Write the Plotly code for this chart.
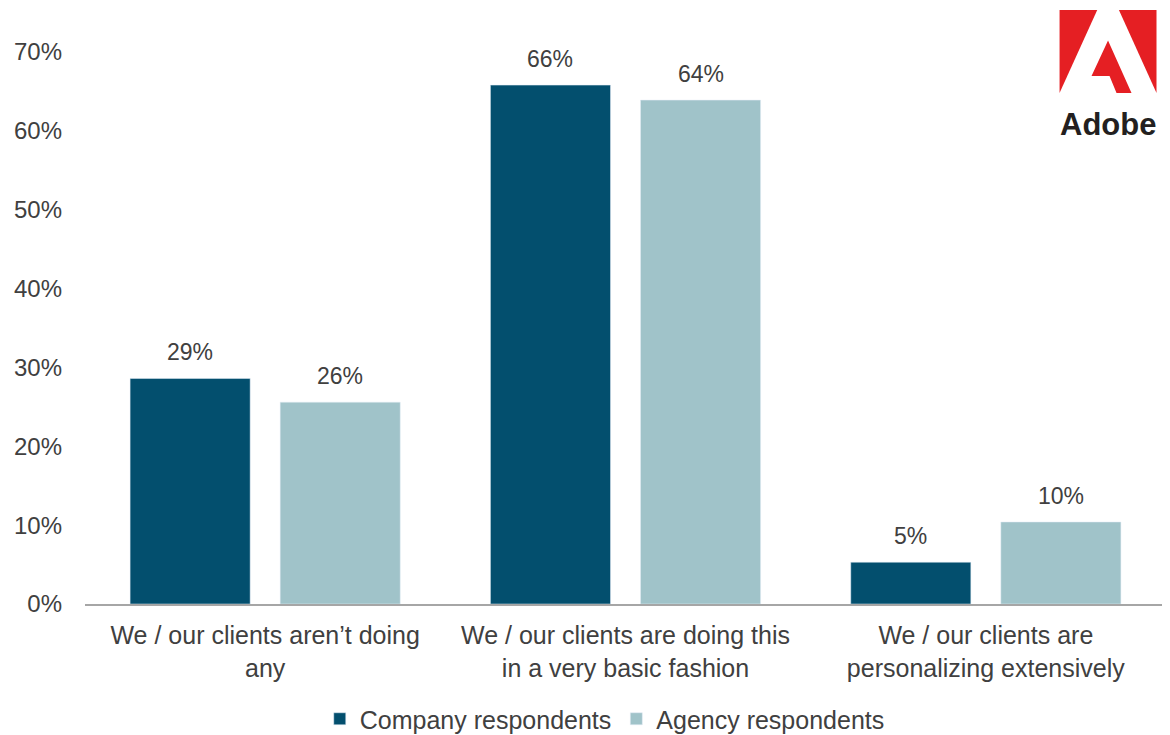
import plotly.graph_objects as go

categories = [
    "We / our clients aren\u2019t doing<br>any",
    "We / our clients are doing this<br>in a very basic fashion",
    "We / our clients are<br>personalizing extensively",
]
company = [0.286, 0.658, 0.053]
agency = [0.256, 0.639, 0.104]
series_names = ["Company respondents", "Agency respondents"]
colors = ["#034f6e", "#a0c3c9"]
y_ticks = [0, 0.1, 0.2, 0.3, 0.4, 0.5, 0.6, 0.7]

W, H = 1170, 735
OFF = 8  # page body margin offset
# plot area in page pixels: x 85..1166.5, y 52..604
ML = 85 - OFF
MT = 52 - OFF
MR = W - (1166.5 - OFF)
MB = H - (604 - OFF)
PW, PH = W - ML - MR, H - MT - MB

def px(x):  # page px -> paper
    return (x - OFF - ML) / PW

def py(y):
    return (H - MB - (y - OFF)) / PH

font_main = "Liberation Sans, Arial, sans-serif"
txt_col = "#404040"

fig = go.Figure()
for name, vals, col in zip(series_names, [company, agency], colors):
    fig.add_trace(go.Bar(
        x=categories, y=vals, name=name, marker_color=col,
        cliponaxis=False,
    ))

# value labels above bars (offset of each bar within its group)
slot_px = PW / len(categories) * (1 - 0.167) / 2
annotations = []
for i, vals in enumerate([company, agency]):
    shift = (i - 0.5) * slot_px
    for cat, v in zip(categories, vals):
        annotations.append(dict(
            x=cat, y=v, xref="x", yref="y", text=f"{v:.0%}", showarrow=False,
            xshift=shift, yshift=26, yanchor="middle", xanchor="center",
            font=dict(size=23, color=txt_col, family=font_main)))

# Adobe logo (decoration)
def path(points):
    return "M " + " L ".join(f"{px(x):.5f},{py(y):.5f}" for x, y in points) + " Z"

logo_polys = [
    [(1060, 10), (1097.7, 10), (1060, 93)],
    [(1119.4, 10), (1157, 10), (1157, 93)],
    [(1108.5, 40.5), (1132, 93), (1117, 93), (1110, 76), (1092, 76)],
]
shapes = [dict(type="path", xref="paper", yref="paper", path=path(p),
               fillcolor="#e51f23", line=dict(width=0)) for p in logo_polys]
annotations.append(dict(text="<b>Adobe</b>", xref="paper", yref="paper",
                        x=px(1108), y=py(124), xanchor="center", yanchor="middle",
                        showarrow=False,
                        font=dict(size=31, color="#231f20", family=font_main)))

fig.update_layout(
    width=W, height=H,
    margin=dict(l=ML, r=MR, t=MT, b=MB, autoexpand=False),
    paper_bgcolor="white", plot_bgcolor="white",
    barmode="group", bargap=0.167, bargroupgap=0.2,
    font=dict(family=font_main, color=txt_col, size=23),
    showlegend=True,
    legend=dict(orientation="h", x=px(605), xanchor="center", y=py(719), yanchor="middle",
                bgcolor="rgba(0,0,0,0)",
                font=dict(size=25, color=txt_col), itemwidth=30,
                traceorder="normal"),
    xaxis=dict(showline=True, linecolor="#a6a6a6", linewidth=2, ticks="",
               automargin=False, ticklabelstandoff=8,
               tickfont=dict(size=25, color=txt_col), showgrid=False),
    yaxis=dict(range=[0, 0.7], tickvals=y_ticks, tickformat=".0%",
               automargin=False,
               showgrid=False, zeroline=False, showline=False, ticks="",
               ticklabelstandoff=22,
               tickfont=dict(size=24, color=txt_col)),
    shapes=shapes,
    annotations=annotations,
)

fig.write_html("out.html")
